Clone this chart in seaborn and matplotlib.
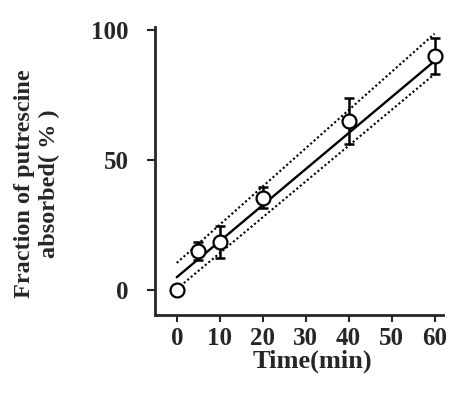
import numpy as np
import pandas as pd
import seaborn as sns
import matplotlib.pyplot as plt

# measured points (mean +/- error)
time_min = [0, 5, 10, 20, 40, 60]
fraction = [0, 15, 18.5, 35.5, 65, 90]
err = [0, 3.5, 6, 4, 9, 7]

# regression line and its confidence limits (read at x = 0 and x = 60)
fit_x = [0, 60]
fit_y = [5, 88]
upper_y = [10.5, 98.5]
lower_y = [0.5, 83]

sns.set_style("ticks")
plt.rcParams["font.family"] = ["Liberation Serif", "DejaVu Serif"]

df = pd.DataFrame({"time": time_min, "frac": fraction, "err": err})
fit = pd.DataFrame({"time": fit_x, "fit": fit_y, "up": upper_y, "lo": lower_y})

fig = plt.figure(figsize=(4.65, 3.94), dpi=100)
ax = fig.add_axes([0.333, 0.2005, 0.62, 0.7305])

sns.lineplot(data=fit, x="time", y="fit", ax=ax, color="black", lw=1.7)
sns.lineplot(data=fit, x="time", y="up", ax=ax, color="black", lw=1.5, ls=(0, (1, 1.2)))
sns.lineplot(data=fit, x="time", y="lo", ax=ax, color="black", lw=1.5, ls=(0, (1, 1.2)))

ax.errorbar(df["time"], df["frac"], yerr=df["err"], fmt="none",
            ecolor="black", elinewidth=1.8, capsize=3.5, capthick=1.8, zorder=3)
sns.scatterplot(data=df, x="time", y="frac", ax=ax, marker="o", s=100,
                facecolor="white", edgecolor="black", linewidth=1.6, zorder=4)

ax.set_xlim(-5.1, 62)
ax.set_ylim(-9.5, 101)
ax.set_xticks([0, 10, 20, 30, 40, 50, 60])
ax.set_yticks([0, 50, 100])

for side in ["top", "right"]:
    ax.spines[side].set_visible(False)
for side in ["left", "bottom"]:
    ax.spines[side].set_linewidth(2)

ax.tick_params(axis="y", length=6, width=1.5, pad=13, labelsize=18)
ax.tick_params(axis="x", length=5, width=1.5, pad=3.5, labelsize=18)
for lab in ax.get_xticklabels() + ax.get_yticklabels():
    lab.set_fontweight("bold")

ax.set_xlabel("Time(min)", fontsize=19, fontweight="bold")
ax.xaxis.set_label_coords(0.545, -0.12)
ax.set_ylabel("Fraction of putrescine\nabsorbed( % )", fontsize=17.5,
              fontweight="bold", linespacing=1.25)
ax.yaxis.set_label_coords(-0.33, 0.455)

fig.savefig("out.png", dpi=100)
